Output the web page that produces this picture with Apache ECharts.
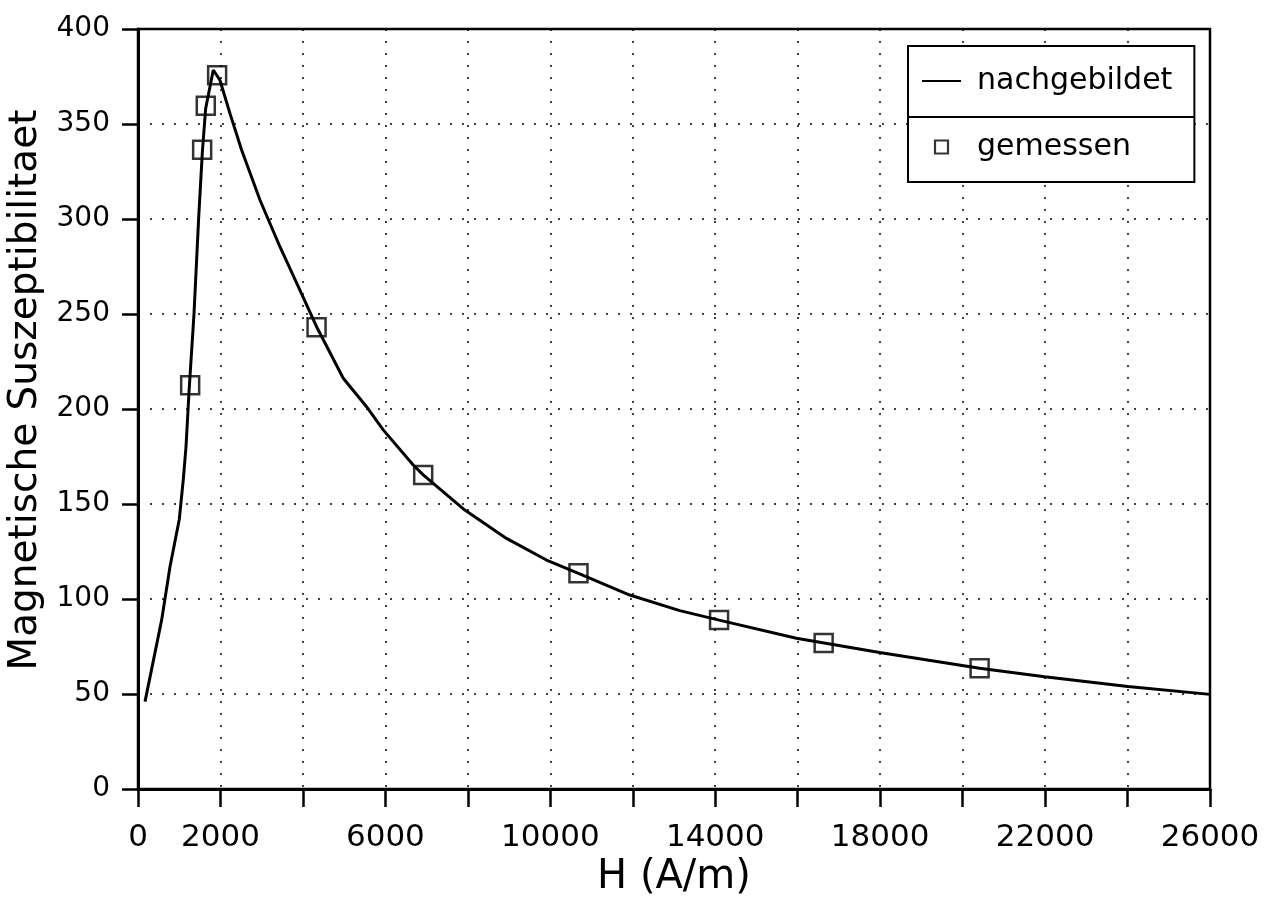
<!DOCTYPE html>
<html>
<head>
<meta charset="utf-8">
<script src="https://cdn.jsdelivr.net/npm/echarts@6/dist/echarts.min.js"></script>
<style>html,body{margin:0;padding:0;background:#fff}#c{width:1271px;height:909px}</style>
</head>
<body>
<div id="c"></div>
<script>
// modelled curve ("nachgebildet")
const curveH   = [170, 574, 776, 1002, 1099, 1164, 1240, 1358, 1470, 1560, 1640, 1826, 1988, 2230, 2513, 2958, 3442, 3927, 4331, 4978, 5543, 5947, 6675, 6917, 7927, 8937, 9907, 10683, 11927, 13139, 14093, 15968, 17988, 20412, 21988, 24008, 26000];
const curveChi = [46, 89, 117, 142, 163, 180, 210, 250, 300, 335, 358, 378.4, 373, 355.6, 336.3, 310, 285.4, 262.6, 243.3, 216.2, 201.2, 189, 170.5, 165.3, 146.8, 131.9, 120.5, 113.5, 102.1, 93.9, 88.9, 79.3, 71.8, 63.5, 59.1, 53.9, 49.8];
// measured points ("gemessen")
const measH   = [1265, 1556, 1644, 1919, 4331, 6917, 10683, 14093, 16630, 20412];
const measChi = [212.5, 336.5, 359.6, 375.7, 243, 165.3, 113.5, 88.9, 76.8, 63.5];
// axis tick labels
const xLabelValues = [0, 2000, 6000, 10000, 14000, 18000, 22000, 26000];
const seriesNames = ['nachgebildet', 'gemessen'];
const xTitle = 'H (A/m)';
const yTitle = 'Magnetische Suszeptibilitaet';

const FONT = 'DejaVu Sans';
const chart = echarts.init(document.getElementById('c'), null, {renderer: 'canvas'});
const gridDots = {show: true, lineStyle: {color: '#000', width: 1.5, type: [2, 10]}};
chart.setOption({
  animation: false,
  backgroundColor: '#fff',
  textStyle: {fontFamily: FONT, color: '#000'},
  grid: {left: 138, right: 61, top: 29, bottom: 120, show: true, borderColor: '#000', borderWidth: 2.5,
         containLabel: false, outerBoundsMode: 'none'},
  legend: {
    left: 908, top: 46, orient: 'vertical',
    backgroundColor: '#fff', borderColor: '#000', borderWidth: 2,
    padding: [20, 22, 20, 14], itemGap: 36, itemWidth: 39, itemHeight: 13,
    symbolKeepAspect: true,
    textStyle: {fontFamily: FONT, fontSize: 30, color: '#000', padding: [0, 0, 0, 11]},
    data: [
      {name: seriesNames[0], icon: 'path://M0,0L39,0L39,2L0,2Z', itemStyle: {color: '#000', borderWidth: 0}},
      {name: seriesNames[1], icon: 'path://M0,0L10,0L10,10L0,10Z', itemStyle: {color: '#fff', borderColor: '#000', borderWidth: 2.2}}
    ]
  },
  graphic: [{
    type: 'line', z: 100,
    shape: {x1: 908, y1: 117, x2: 1194, y2: 117},
    style: {stroke: '#000', lineWidth: 2}
  }],
  xAxis: {
    type: 'value', min: 0, max: 26000, interval: 2000,
    name: xTitle, nameLocation: 'middle', nameGap: 69,
    nameTextStyle: {fontFamily: FONT, fontSize: 40, color: '#000'},
    axisLine: {show: true, onZero: false, lineStyle: {color: '#000', width: 3}},
    axisTick: {show: true, inside: false, length: 18, lineStyle: {color: '#000', width: 2.5}},
    axisLabel: {margin: 33, fontFamily: FONT, fontSize: 31, color: '#000',
      formatter: v => xLabelValues.includes(v) ? String(v) : ''},
    splitLine: gridDots
  },
  yAxis: {
    type: 'value', min: 0, max: 400, interval: 50,
    name: yTitle, nameLocation: 'middle', nameGap: 89, nameRotate: 90,
    nameTextStyle: {fontFamily: FONT, fontSize: 39, color: '#000', padding: [0, 0, 0, 38]},
    axisLine: {show: true, onZero: false, lineStyle: {color: '#000', width: 3}},
    axisTick: {show: true, inside: false, length: 16, lineStyle: {color: '#000', width: 2.5}},
    axisLabel: {margin: 28, fontFamily: FONT, fontSize: 28, color: '#000'},
    splitLine: gridDots
  },
  series: [
    {
      name: seriesNames[0], type: 'line', symbol: 'none', smooth: false,
      data: curveH.map((h, i) => [h, curveChi[i]]),
      lineStyle: {color: '#000', width: 3}, itemStyle: {color: '#000'}, z: 3
    },
    {
      name: seriesNames[1], type: 'scatter', symbol: 'rect', symbolSize: 18,
      data: measH.map((h, i) => [h, measChi[i]]),
      itemStyle: {color: 'rgba(0,0,0,0)', borderColor: '#000', borderWidth: 2.5}, z: 4
    }
  ]
});
</script>
</body>
</html>
